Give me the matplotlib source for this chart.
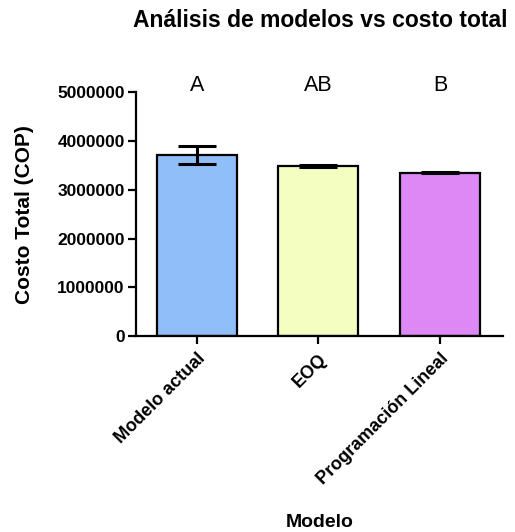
import matplotlib.pyplot as plt

plt.rcParams['font.family'] = ['Liberation Sans', 'DejaVu Sans']

modelos = ["Modelo actual", "EOQ", "Programación Lineal"]
costo = [3710000, 3495000, 3345000]
error = [175000, 20000, 12000]
letras = ["A", "AB", "B"]
colores = ["#8fbef8", "#f4fec0", "#dd88f5"]

fig = plt.figure(figsize=(5.15, 5.32), dpi=100)
ax = fig.add_axes([0.264, 0.368, 0.713, 0.459])

x = range(len(modelos))
ax.bar(x, costo, width=0.66, color=colores, edgecolor="black", linewidth=1.6, zorder=2)
ax.errorbar(x, costo, yerr=error, fmt="none", ecolor="black", elinewidth=2.2,
            capsize=14, capthick=2.2, zorder=3)

for i, (c, l) in enumerate(zip(costo, letras)):
    ax.text(i, 5130000, l, ha="center", va="center", fontsize=15.5, clip_on=False)

ax.set_xlim(-0.5, 2.52)
ax.set_ylim(0, 5000000)
ax.set_yticks([0, 1000000, 2000000, 3000000, 4000000, 5000000])
ax.set_yticklabels(["0", "1000000", "2000000", "3000000", "4000000", "5000000"],
                   fontweight="bold", fontsize=12.5)
ax.set_xticks(list(x))
ax.set_xticklabels(modelos, rotation=45, ha="right", rotation_mode="anchor",
                   fontweight="bold", fontsize=13)

for s in ["top", "right"]:
    ax.spines[s].set_visible(False)
for s in ["left", "bottom"]:
    ax.spines[s].set_linewidth(1.6)
ax.tick_params(axis="both", width=1.6, length=6, pad=2)
ax.tick_params(axis="x", pad=4)

ax.set_ylabel("Costo Total (COP)", fontweight="bold", fontsize=15, labelpad=17)
fig.text(0.621, 0.018, "Modelo", ha="center", va="center", fontweight="bold", fontsize=14)
fig.text(0.621, 0.962, "Análisis de modelos vs costo total", ha="center", va="center",
         fontweight="bold", fontsize=16.5)

plt.savefig("out.png", dpi=100)
plt.close()
